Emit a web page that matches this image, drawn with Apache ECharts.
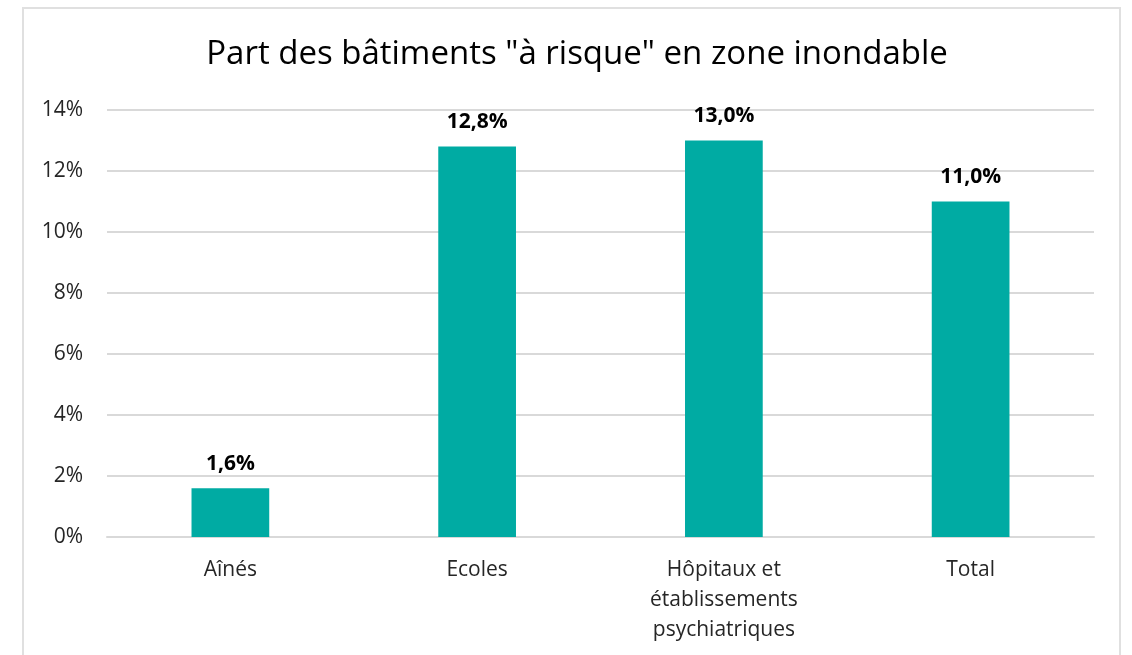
<!DOCTYPE html>
<html><head><meta charset="utf-8">
<script src="https://cdn.jsdelivr.net/npm/echarts@6/dist/echarts.min.js"></script>
<style>
html,body{margin:0;padding:0;background:#fff;}
#frame{position:absolute;left:22px;top:7px;width:1099px;height:660px;border:2px solid #e0e0e0;box-sizing:border-box;}
#c{position:absolute;left:0;top:0;width:1132px;height:655px;}
</style></head>
<body>
<div id="frame"></div>
<div id="c"></div>
<script>
const categories = ["Aînés", "Ecoles", "Hôpitaux et\nétablissements\npsychiatriques", "Total"];
const values = [1.6, 12.8, 13.0, 11.0];
const yTicks = {min: 0, max: 14, interval: 2};
const titleText = 'Part des bâtiments "à risque" en zone inondable';

const chart = echarts.init(document.getElementById('c'), null, {renderer: 'canvas'});
const font = 'Open Sans, Noto Sans, sans-serif';
chart.setOption({
  animation: false,
  title: {
    text: titleText, left: 572, top: 33, textAlign: 'center',
    textStyle: {fontFamily: font, fontSize: 33, fontWeight: 'normal', color: '#000'}
  },
  grid: {left: 107, right: 38, top: 110, bottom: 118, containLabel: false},
  xAxis: {
    type: 'category', data: categories,
    axisLine: {show: true, lineStyle: {color: '#d9d9d9', width: 2}},
    axisTick: {show: false},
    axisLabel: {fontFamily: font, fontSize: 21, color: '#262626', margin: 18, lineHeight: 30, interval: 0}
  },
  yAxis: {
    type: 'value', min: yTicks.min, max: yTicks.max, interval: yTicks.interval,
    axisLine: {show: false}, axisTick: {show: false},
    splitLine: {lineStyle: {color: '#d9d9d9', width: 2}},
    axisLabel: {fontFamily: font, fontSize: 21, color: '#262626', margin: 24, formatter: v => v + '%'}
  },
  series: [{
    type: 'bar', data: values, barWidth: '31.5%',
    itemStyle: {color: '#00ABA3'},
    label: {
      show: true, position: 'top', distance: 14,
      fontFamily: font, fontSize: 21, fontWeight: 'bold', color: '#000',
      formatter: p => p.value.toFixed(1).replace('.', ',') + '%'
    }
  }]
});
</script>
</body></html>
